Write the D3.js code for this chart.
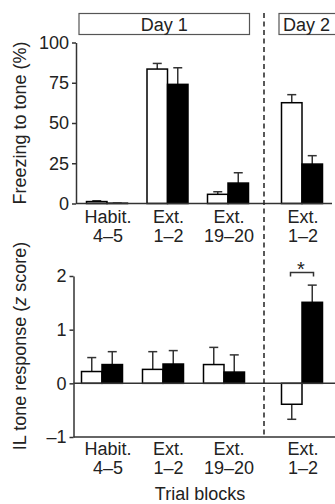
<!DOCTYPE html>
<html>
<head>
<meta charset="utf-8">
<script src="https://cdn.jsdelivr.net/npm/d3@7"></script>
<style>
  body { margin: 0; background: #fff; }
  text { font-family: "Liberation Sans", Arial, sans-serif; fill: #222; }
</style>
</head>
<body>
<div id="chart"></div>
<script>
// trial blocks (x categories)
var blockIds = ["hab45", "ext12", "ext1920", "d2ext12"];
var blockNames = ["Habit.", "Ext.", "Ext.", "Ext."];
var blockTrials = ["4–5", "1–2", "19–20", "1–2"];
var day1 = blockIds.slice(0, 3);
var day2 = blockIds.slice(3);

// freezing to tone (%), white = control, black = treated
var freezeWhite = [1.2, 83.5, 5.7, 62.6];
var freezeWhiteErr = [0.5, 3.5, 1.6, 5.0];
var freezeBlack = [0.2, 74.0, 12.7, 24.5];
var freezeBlackErr = [0, 10.3, 6.4, 5.2];

// IL tone response (z score)
var zWhite = [0.22, 0.26, 0.35, -0.39];
var zWhiteErr = [0.26, 0.33, 0.32, 0.28];
var zBlack = [0.35, 0.36, 0.21, 1.51];
var zBlackErr = [0.24, 0.25, 0.32, 0.32];

var freezeTicks = [0, 25, 50, 75, 100];
var zTicks = [-1, 0, 1, 2];

var W = 335, H = 504;
var svg = d3.select("#chart").append("svg")
    .attr("width", W).attr("height", H);

var ink = "#333";
var fs = 18;

// x scales, one per panel and day
function xScales(r1, r2) {
    var a = d3.scaleBand().domain(day1).range(r1);
    var b = d3.scaleBand().domain(day2).range(r2);
    return function (id) {
        var s = day1.indexOf(id) >= 0 ? a : b;
        return s(id) + s.bandwidth() / 2;
    };
}
var xTop = xScales([76.75, 258.25], [272, 332]);
var xBot = xScales([71.5, 254.5], [272, 332]);
var barW = 20.5;

function panel(opts) {
    var y = d3.scaleLinear().domain(opts.domain).range(opts.range);
    var g = svg.append("g");

    // bars
    var rows = blockIds.map(function (id, i) {
        return [
            { id: id, v: opts.white[i], e: opts.whiteErr[i], side: -1, fill: "#fff" },
            { id: id, v: opts.black[i], e: opts.blackErr[i], side: 0, fill: "#000" }
        ];
    });
    var bars = [].concat.apply([], rows);

    // error bars (one-sided, away from zero)
    function tip(d) { return y(d.v + (d.v < 0 ? -d.e : d.e)); }
    function mid(d) { return opts.x(d.id) + (d.side + 0.5) * barW; }
    var eb = g.selectAll(".err").data(bars).enter().append("g");
    eb.append("line")
        .attr("x1", mid).attr("x2", mid)
        .attr("y1", function (d) { return y(d.v); })
        .attr("y2", tip)
        .attr("stroke", ink).attr("stroke-width", 1.5);
    eb.append("line")
        .attr("x1", function (d) { return mid(d) - 4.5; })
        .attr("x2", function (d) { return mid(d) + 4.5; })
        .attr("y1", tip).attr("y2", tip)
        .attr("stroke", ink).attr("stroke-width", 1.5);

    g.selectAll(".bar").data(bars).enter().append("rect")
        .attr("x", function (d) { return opts.x(d.id) + d.side * barW; })
        .attr("width", barW)
        .attr("y", function (d) { return y(Math.max(0, d.v)); })
        .attr("height", function (d) { return Math.abs(y(d.v) - y(0)); })
        .attr("fill", function (d) { return d.fill; })
        .attr("stroke", "#000").attr("stroke-width", 1.5);

    // baseline(s)
    g.append("line")
        .attr("x1", opts.axisX).attr("x2", opts.lineEnd)
        .attr("y1", y(0)).attr("y2", y(0))
        .attr("stroke", ink).attr("stroke-width", 1.5);
    if (opts.domain[0] < 0) {
        g.append("line")
            .attr("x1", opts.axisX).attr("x2", opts.lineEnd)
            .attr("y1", y(opts.domain[0])).attr("y2", y(opts.domain[0]))
            .attr("stroke", ink).attr("stroke-width", 1.5);
    }

    // y axis
    var ax = g.append("g")
        .attr("transform", "translate(" + opts.axisX + ",0)")
        .call(d3.axisLeft(y).tickValues(opts.ticks).tickSize(4).tickSizeOuter(0).tickPadding(3)
            .tickFormat(function (d) { return d < 0 ? "–" + Math.abs(d) : d; }));
    ax.select(".domain").attr("stroke", ink).attr("stroke-width", 1.5);
    ax.selectAll(".tick line").attr("stroke", ink).attr("stroke-width", 1.5);
    ax.selectAll(".tick text").attr("font-size", fs).attr("fill", "#222")
        .attr("font-family", "Liberation Sans, Arial, sans-serif");

    // y title
    var t = g.append("text")
        .attr("transform", "translate(26," + opts.titleY + ") rotate(-90)")
        .attr("text-anchor", "middle")
        .attr("font-size", fs);
    opts.title(t);

    // category labels
    var lab = g.selectAll(".lab").data(blockIds).enter().append("text")
        .attr("x", function (d) { return xTop(d) + 1; })
        .attr("y", opts.labelY)
        .attr("text-anchor", "middle")
        .attr("font-size", fs);
    lab.append("tspan").text(function (d, i) { return blockNames[i]; });
    lab.append("tspan")
        .attr("x", function (d) { return xTop(d) + 1; })
        .attr("dy", 19)
        .text(function (d, i) { return blockTrials[i]; });

    return y;
}

var yTop = panel({
    domain: [0, 100], range: [203.5, 42.5], ticks: freezeTicks,
    white: freezeWhite, whiteErr: freezeWhiteErr,
    black: freezeBlack, blackErr: freezeBlackErr,
    x: xTop, axisX: 76, lineEnd: 332, labelY: 223, titleY: 123,
    title: function (t) { t.text("Freezing to tone (%)"); }
});

var yBot = panel({
    domain: [-1, 2], range: [437, 276], ticks: zTicks,
    white: zWhite, whiteErr: zWhiteErr,
    black: zBlack, blackErr: zBlackErr,
    x: xBot, axisX: 73.5, lineEnd: 335, labelY: 455, titleY: 346,
    title: function (t) {
        t.append("tspan").text("IL tone response (");
        t.append("tspan").attr("font-style", "italic").text("z");
        t.append("tspan").text(" score)");
    }
});

// day divider
svg.append("line")
    .attr("x1", 264).attr("x2", 264).attr("y1", 13).attr("y2", 437)
    .attr("stroke", "#222").attr("stroke-width", 1.5)
    .attr("stroke-dasharray", "5,3.5");

// day boxes
var boxes = [
    { label: "Day 1", x0: 79, x1: 249.5, anchor: "middle" },
    { label: "Day 2", x0: 279, x1: 345, anchor: "start" }
];
svg.selectAll(".daybox").data(boxes).enter().append("rect")
    .attr("x", function (d) { return d.x0; })
    .attr("y", 13.5)
    .attr("width", function (d) { return d.x1 - d.x0; })
    .attr("height", 21)
    .attr("fill", "#fff").attr("stroke", "#555").attr("stroke-width", 1.2);
svg.selectAll(".daylab").data(boxes).enter().append("text")
    .attr("x", function (d) { return d.anchor === "middle" ? (d.x0 + d.x1) / 2 : d.x0 + 4; })
    .attr("y", 30.5)
    .attr("text-anchor", function (d) { return d.anchor; })
    .attr("font-size", fs)
    .text(function (d) { return d.label; });

// significance bracket, Day 2 z score
var cx = xBot("d2ext12");
var by = yBot(2) - 3.5;
svg.append("path")
    .attr("d", "M" + (cx - 11.5) + "," + (by + 4) + "V" + by + "H" + (cx + 11.5) + "V" + (by + 4))
    .attr("fill", "none").attr("stroke", ink).attr("stroke-width", 1.5);
svg.append("text")
    .attr("x", cx - 1).attr("y", by + 3)
    .attr("text-anchor", "middle").attr("font-size", 20)
    .text("*");

// x title
svg.append("text")
    .attr("x", 200).attr("y", 500)
    .attr("text-anchor", "middle").attr("font-size", fs)
    .text("Trial blocks");
</script>
</body>
</html>
